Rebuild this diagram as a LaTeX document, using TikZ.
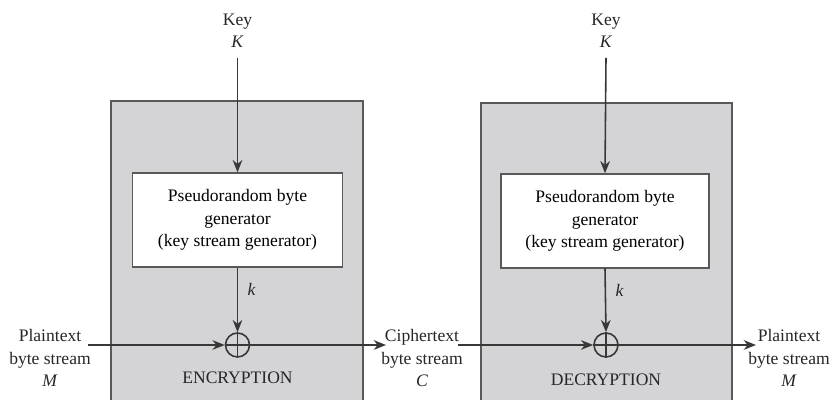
\documentclass[tikz,border=0pt]{standalone}
\usepackage{fontspec}
\setmainfont{Liberation Serif}
\usepackage{tikz}
\usetikzlibrary{arrows.meta}
\colorlet{boxgray}{blue!8!black!17!white}
\colorlet{edgegray}{black!65}
\colorlet{linegray}{black!78}

\begin{document}
\begin{tikzpicture}[
    font=\fontsize{10}{12.8}\selectfont,
    flow/.style={draw=linegray,line width=0.9pt,-{Stealth[length=7pt,width=5.5pt]}},
    genbox/.style={draw=edgegray,thick,fill=white,minimum width=4.2cm,minimum height=1.88cm,align=center,inner sep=2pt},
    xorgate/.style={draw=linegray,line width=0.9pt,circle,minimum size=0.48cm,inner sep=0pt},
    txt/.style={align=center,text=black!85}]

      \clip (0,0) rectangle (16.62,8);

      % the two shaded units
      \draw [edgegray,thick,fill=boxgray] (2.22,-0.2) rectangle (7.26,5.98);
      \draw [edgegray,thick,fill=boxgray] (9.62,-0.2) rectangle (14.64,5.94);

      % encryption side
      \node[txt] (keyE) at (4.75,7.38) {Key\\\textit{K}};
      \coordinate (keyEend) at (4.75,6.84);
      \node[genbox] (genE) at (4.75,3.6) {Pseudorandom byte\\generator\\(key stream generator)};
      \node[xorgate] (xorE) at (4.75,1.1) {};
      \draw [linegray,line width=0.6pt] (xorE.north) -- (xorE.south) (xorE.west) -- (xorE.east);
      \node[txt] (ptE) at (1.0,0.84) {Plaintext\\byte stream\\\textit{M}};
      \coordinate (ptEend) at (1.76,1.1);
      \node[txt] (encLabel) at (4.75,0.44) {ENCRYPTION};

      \draw [flow] (keyEend) -- (genE.north);
      \draw [flow] (genE.south) -- node[right,txt,xshift=2pt,yshift=6pt] {\textit{k}} (xorE.north);
      \draw [flow] (ptEend) -- (xorE.west);

      % ciphertext in between
      \node[txt] (ct) at (8.44,0.84) {Ciphertext\\byte stream\\\textit{C}};
      \coordinate (ctIn) at (7.72,1.1);
      \coordinate (ctOut) at (9.16,1.1);
      \draw [flow] (xorE.east) -- (ctIn);

      % decryption side
      \node[txt] (keyD) at (12.12,7.38) {Key\\\textit{K}};
      \coordinate (keyDend) at (12.12,6.84);
      \node[genbox,minimum width=4.16cm] (genD) at (12.1,3.58) {Pseudorandom byte\\generator\\(key stream generator)};
      \node[xorgate] (xorD) at (12.12,1.1) {};
      \draw [linegray,line width=0.6pt] (xorD.north) -- (xorD.south) (xorD.west) -- (xorD.east);
      \node[txt] (ptD) at (15.78,0.84) {Plaintext\\byte stream\\\textit{M}};
      \coordinate (ptDend) at (15.12,1.1);
      \node[txt] (decLabel) at (12.12,0.4) {DECRYPTION};

      \draw [flow] (keyDend) -- (genD.north);
      \draw [flow] (genD.south) -- node[right,txt,xshift=2pt,yshift=6pt] {\textit{k}} (xorD.north);
      \draw [flow] (ctOut) -- (xorD.west);
      \draw [flow] (xorD.east) -- (ptDend);

\end{tikzpicture}
\end{document}
